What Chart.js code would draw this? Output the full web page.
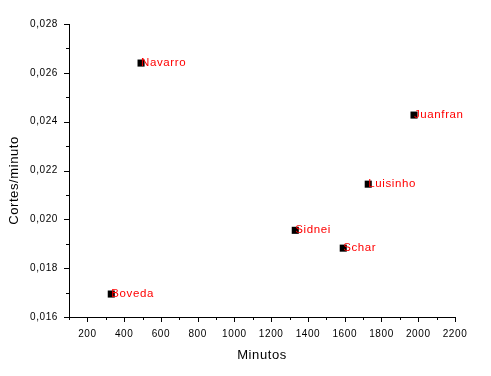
<!DOCTYPE html>
<html>
<head>
<meta charset="utf-8">
<script src="https://cdn.jsdelivr.net/npm/chart.js@4.4.0/dist/chart.umd.min.js"></script>
<style>
  html, body { margin: 0; padding: 0; background: #fff; }
  #wrap { width: 491px; height: 376px; }
</style>
</head>
<body>
<div id="wrap"><canvas id="c" width="491" height="376"></canvas></div>
<script>
// ----------------- DATA -----------------
const players = ['Navarro', 'Juanfran', 'Luisinho', 'Sidnei', 'Schar', 'Boveda'];
const minutos = [492, 1977, 1728, 1331, 1592, 330];
const cortes  = [0.02640, 0.02427, 0.02144, 0.01955, 0.01882, 0.01694];

const xTicks = { min: 100, max: 2200, step: 100 };
const yTicks = { min: 0.016, max: 0.028, step: 0.001 };

const FONT = 'Liberation Sans, Arial, sans-serif';

// spaced-out text like the original
const spacingPlugin = {
	id: 'spacing',
	beforeUpdate(chart) { chart.ctx.letterSpacing = '0.6px'; },
	beforeDraw(chart) { chart.ctx.letterSpacing = '0.6px'; }
};

// tick marks (major + minor) and axis titles, plus point labels
const decoPlugin = {
	id: 'deco',
	afterDraw(chart) {
		const ctx = chart.ctx;
		const area = chart.chartArea;
		const xs = chart.scales.x, ys = chart.scales.y;
		ctx.save();
		ctx.strokeStyle = '#000';
		ctx.lineWidth = 1;
		ctx.beginPath();
		xs.ticks.forEach(t => {
			const px = Math.round(xs.getPixelForValue(t.value)) + 0.5;
			const len = Math.round(t.value) % 200 === 0 ? 5 : 3;
			ctx.moveTo(px, area.bottom);
			ctx.lineTo(px, area.bottom + len);
		});
		ys.ticks.forEach(t => {
			const py = Math.round(ys.getPixelForValue(t.value)) + 0.5;
			const len = Math.round(t.value * 1000) % 2 === 0 ? 5 : 3;
			ctx.moveTo(area.left, py);
			ctx.lineTo(area.left - len, py);
		});
		ctx.stroke();

		// axis titles
		ctx.letterSpacing = '0.6px';
		ctx.fillStyle = '#000';
		ctx.font = '13px ' + FONT;
		ctx.textAlign = 'center';
		ctx.textBaseline = 'middle';
		ctx.fillText('Minutos', (area.left + area.right) / 2, 355);
		ctx.save();
		ctx.translate(14, (area.top + area.bottom) / 2 + 10);
		ctx.rotate(-Math.PI / 2);
		ctx.fillText('Cortes/minuto', 0, 0);
		ctx.restore();

		// point labels (drawn over the square's right half)
		ctx.letterSpacing = '0.6px';
		ctx.fillStyle = '#ff0000';
		ctx.font = '11.5px ' + FONT;
		ctx.textAlign = 'left';
		ctx.textBaseline = 'middle';
		const meta = chart.getDatasetMeta(0);
		meta.data.forEach((pt, i) => {
			ctx.fillText(players[i], pt.x, pt.y);
		});
		ctx.restore();
	}
};

new Chart(document.getElementById('c'), {
	type: 'scatter',
	data: {
		datasets: [{
			data: minutos.map((m, i) => ({ x: m, y: cortes[i] })),
			pointStyle: 'rect',
			pointRadius: 5,
			pointHoverRadius: 5,
			backgroundColor: '#000',
			borderColor: '#000',
			borderWidth: 0
		}]
	},
	options: {
		responsive: false,
		animation: false,
		events: [],
		layout: { padding: { top: 24, right: 36, left: 0, bottom: 0 } },
		plugins: { legend: { display: false }, tooltip: { enabled: false } },
		scales: {
			x: {
				type: 'linear',
				min: xTicks.min, max: xTicks.max,
				afterFit: s => { s.height = 59; },
				border: { display: true, color: '#000', width: 1 },
				grid: { drawOnChartArea: false, drawTicks: true, tickLength: 5, tickColor: 'rgba(0,0,0,0)' },
				ticks: {
					stepSize: xTicks.step, autoSkip: false, maxRotation: 0, padding: 6,
					color: '#000', font: { family: FONT, size: 10 },
					callback: v => (Math.round(v) % 200 === 0 ? String(v) : '')
				}
			},
			y: {
				type: 'linear',
				min: yTicks.min, max: yTicks.max,
				afterFit: s => { s.width = 69; },
				border: { display: true, color: '#000', width: 1 },
				grid: { drawOnChartArea: false, drawTicks: true, tickLength: 5, tickColor: 'rgba(0,0,0,0)' },
				ticks: {
					stepSize: yTicks.step, autoSkip: false, padding: 6,
					color: '#000', font: { family: FONT, size: 10 },
					callback: v => (Math.round(v * 1000) % 2 === 0 ? v.toFixed(3).replace('.', ',') : '')
				}
			}
		}
	},
	plugins: [spacingPlugin, decoPlugin]
});
</script>
</body>
</html>
